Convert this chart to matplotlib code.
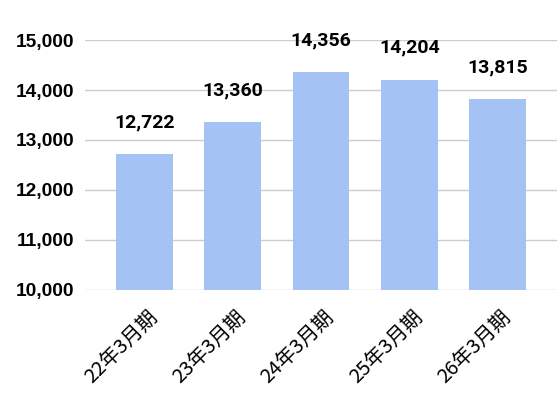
import numpy as np
import matplotlib.pyplot as plt
from matplotlib.transforms import ScaledTranslation

categories = ["22年3月期", "23年3月期", "24年3月期", "25年3月期", "26年3月期"]
values = [12722, 13360, 14356, 14204, 13815]
y_ticks = [10000, 11000, 12000, 13000, 14000, 15000]

BAR_COLOR = "#a4c2f4"
GRID_COLOR = "#cccccc"

fig = plt.figure(figsize=(5.57, 4.07), dpi=100)
ax = fig.add_axes([0.1526, 0.2875, 0.8474, 0.6142])

x = np.arange(len(categories))
ax.bar(x, values, width=0.645, color=BAR_COLOR, zorder=2)

ax.set_xlim(-0.674, len(categories) - 1 + 0.674)
ax.set_ylim(10000, 15000)
ax.set_yticks(y_ticks)
ax.set_yticklabels([f"{v:,}" for v in y_ticks], fontfamily="Liberation Sans",
                   fontweight="bold", fontsize=13.8, color="#000000")
ax.yaxis.grid(True, color=GRID_COLOR, linewidth=1, zorder=0)
ax.tick_params(axis="y", length=0, pad=8)

ax.set_xticks(x)
ax.set_xticklabels(categories, rotation=45, ha="right", va="top",
                   rotation_mode="anchor", fontsize=14.5,
                   fontfamily=["Noto Sans CJK JP", "DejaVu Sans"])
ax.tick_params(axis="x", length=0, pad=12)
# shift the rotated labels so they end just right of the bar centre
for lab in ax.get_xticklabels():
    lab.set_transform(lab.get_transform() +
                      ScaledTranslation(3 / 100, 0, fig.dpi_scale_trans))

for spine in ax.spines.values():
    spine.set_visible(False)

for xi, v in zip(x, values):
    ax.annotate(f"{v:,}", (xi, v), xytext=(0, 23), textcoords="offset points",
                ha="center", va="center", fontfamily="Roboto",
                fontweight="bold", fontsize=14, color="#000000")

fig.savefig("out.png", dpi=100)
